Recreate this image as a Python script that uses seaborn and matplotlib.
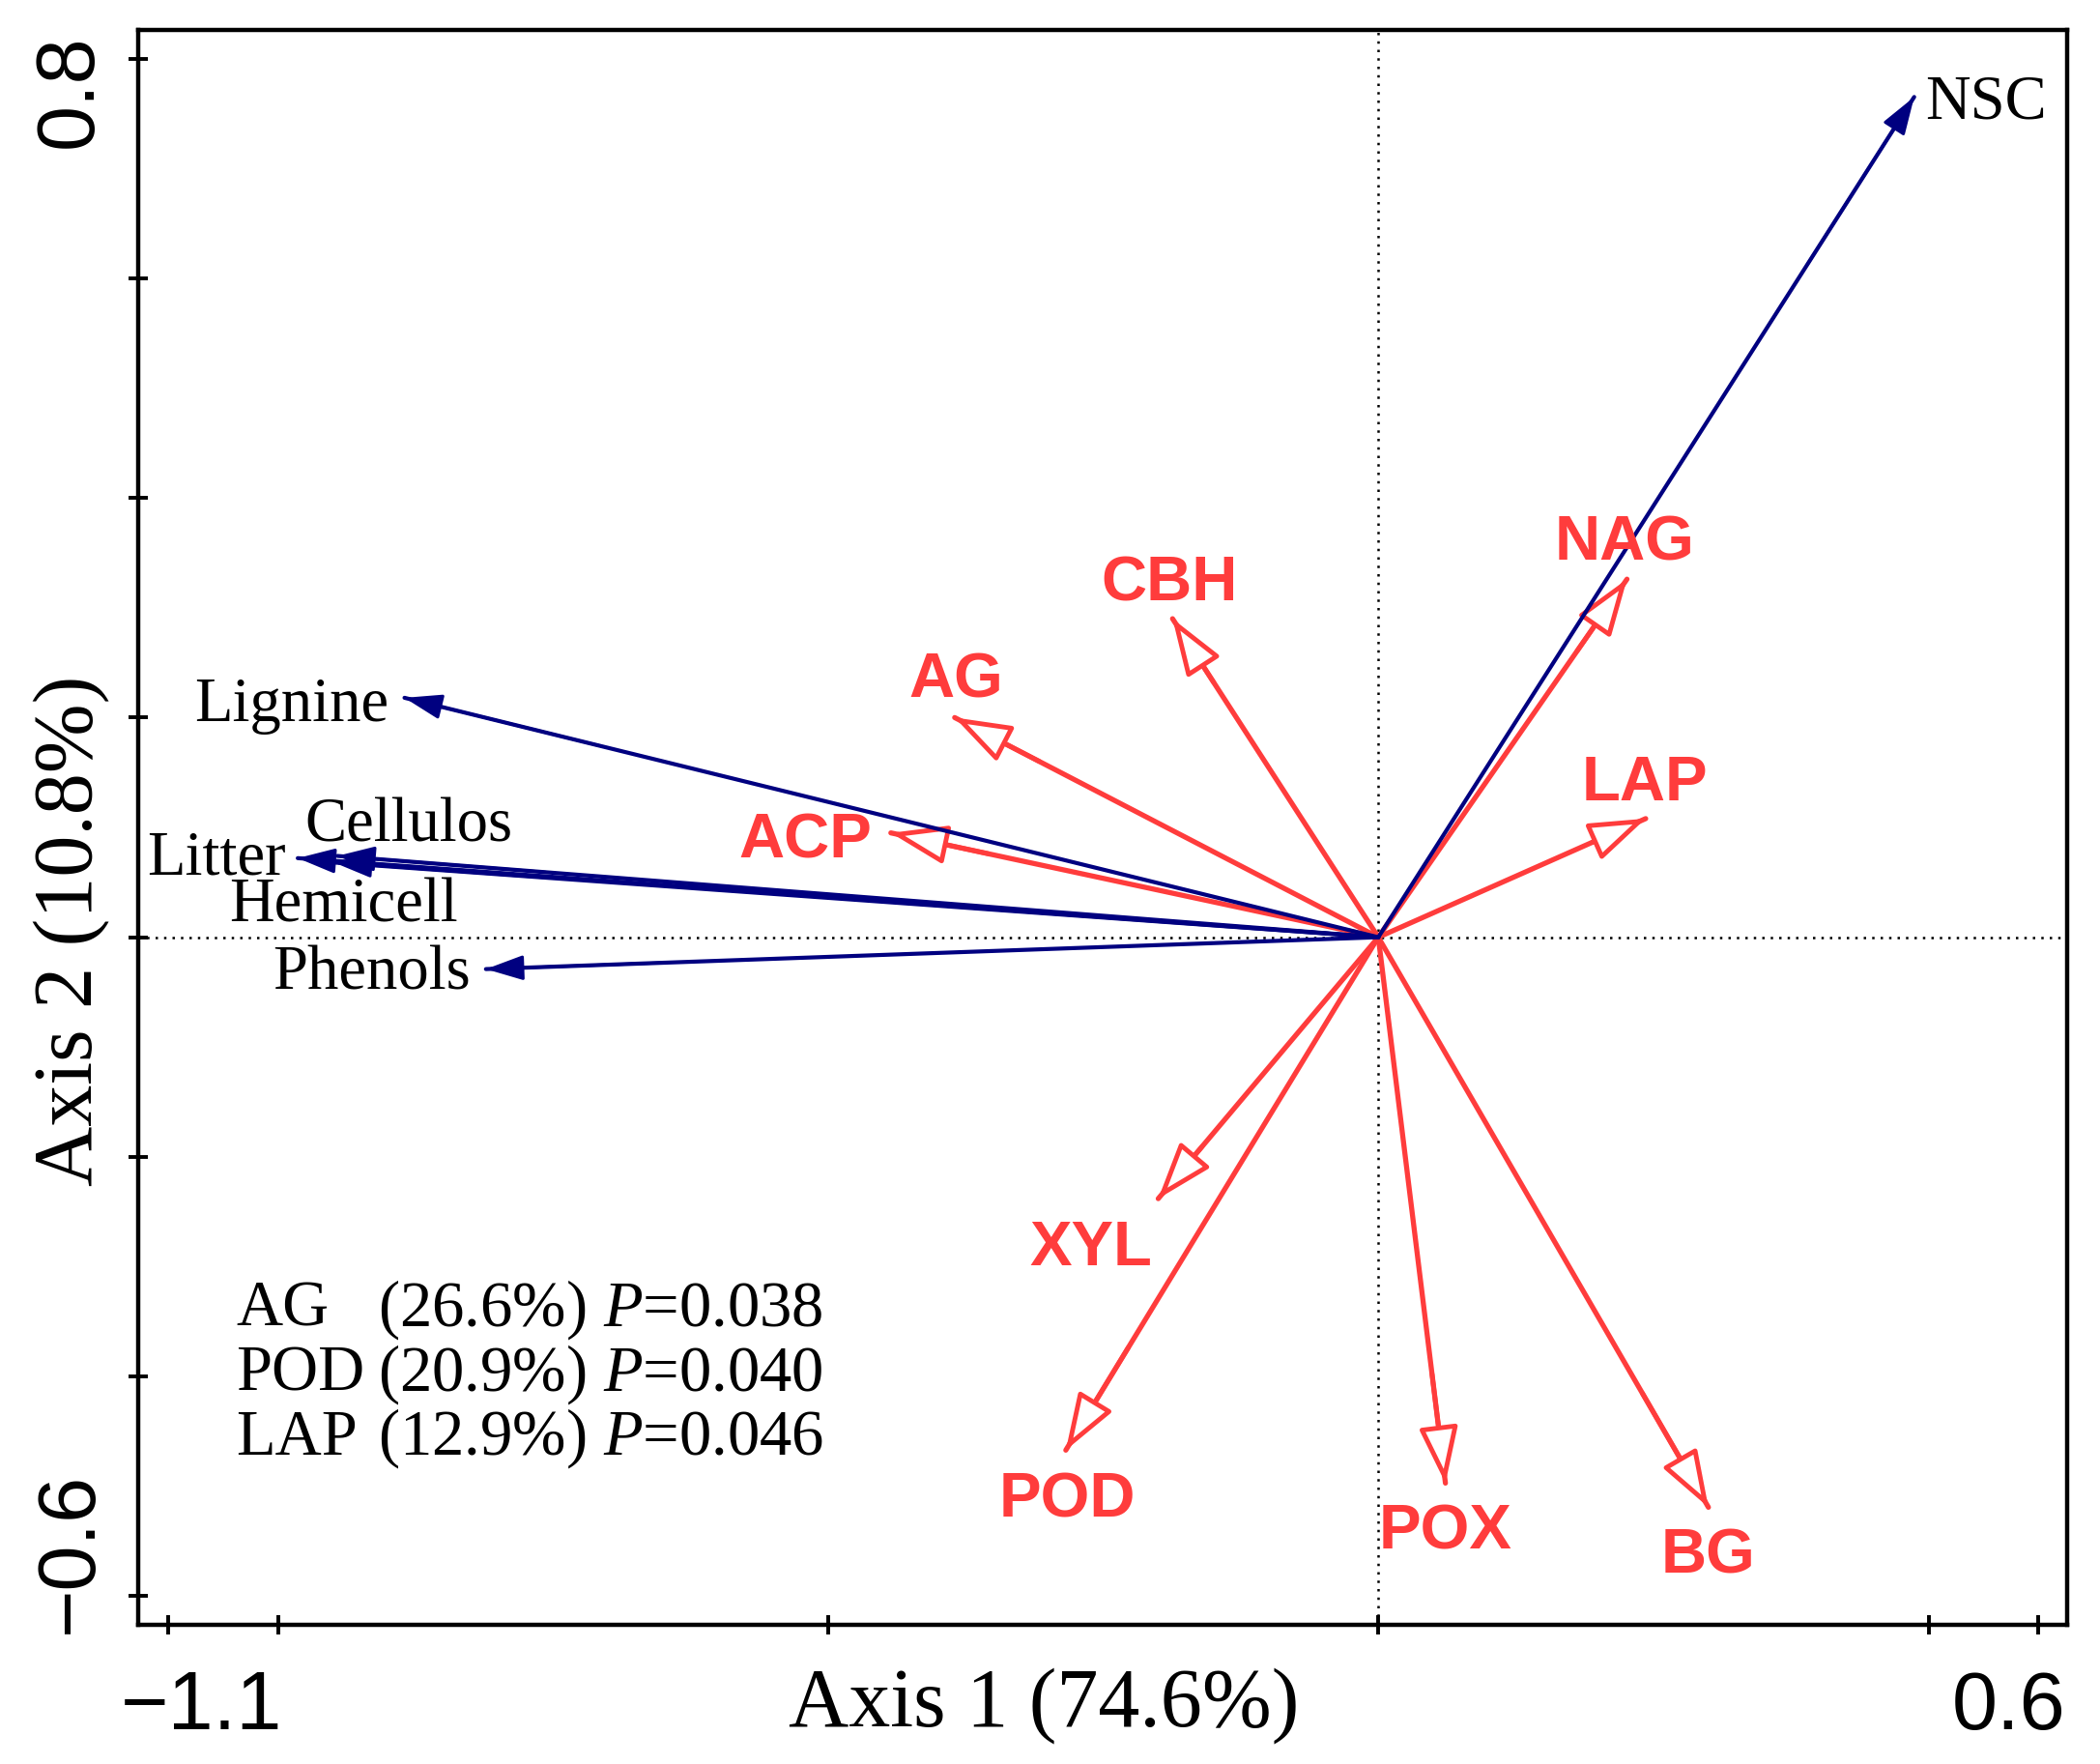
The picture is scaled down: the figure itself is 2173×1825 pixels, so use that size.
# RDA biplot of enzyme activities vs litter chemistry
import pandas as pd
import matplotlib
matplotlib.use('Agg')
import matplotlib.pyplot as plt
import matplotlib.transforms as mtransforms
import seaborn as sns

# explanatory variables (blue, filled heads)
env_names = ['NSC', 'Lignine', 'Cellulos', 'Litter', 'Hemicell', 'Phenols']
env_ax1 = [0.487, -0.885, -0.946, -0.982, -0.949, -0.811]
env_ax2 = [0.765, 0.218, 0.074, 0.072, 0.068, -0.029]

# enzyme activities (red, open heads)
enz_names = ['NAG', 'CBH', 'AG', 'ACP', 'LAP', 'XYL', 'POD', 'POX', 'BG']
enz_ax1 = [0.226, -0.187, -0.385, -0.443, 0.243, -0.200, -0.284, 0.061, 0.300]
enz_ax2 = [0.326, 0.290, 0.200, 0.095, 0.108, -0.238, -0.467, -0.497, -0.519]

axis1_pct = 74.6
axis2_pct = 10.8

# forward selection results
sig_names = ['AG', 'POD', 'LAP']
sig_expl = [26.6, 20.9, 12.9]
sig_p = [0.038, 0.040, 0.046]

x_ticks = [-1.1, -1.0, -0.5, 0.0, 0.5, 0.6]
x_ticklabels = ['\u22121.1', '', '', '', '', '0.6']
y_ticks = [-0.6, -0.4, -0.2, 0.0, 0.2, 0.4, 0.6, 0.8]
y_ticklabels = ['\u22120.6', '', '', '', '', '', '', '0.8']

# label anchors (centre x, baseline y) -- layout only
env_label_xy = {
    'NSC': (0.552, 0.7455), 'Lignine': (-0.988, 0.197), 'Cellulos': (-0.881, 0.0876),
    'Litter': (-1.056, 0.0569), 'Hemicell': (-0.940, 0.0146), 'Phenols': (-0.915, -0.047),
}
enz_label_xy = {
    'NAG': (0.224, 0.343), 'CBH': (-0.190, 0.306), 'AG': (-0.384, 0.218),
    'ACP': (-0.521, 0.072), 'LAP': (0.242, 0.1245), 'XYL': (-0.261, -0.299),
    'POD': (-0.283, -0.528), 'POX': (0.061, -0.557), 'BG': (0.300, -0.579),
}

RED = '#ff3c3c'
BLUE = '#000080'
SERIF = ['Liberation Serif', 'DejaVu Serif']
SANS = ['Liberation Sans', 'DejaVu Sans']

sns.set_theme(style='white')
plt.rcParams['font.family'] = SERIF
plt.rcParams['mathtext.fontset'] = 'custom'
plt.rcParams['mathtext.rm'] = 'Liberation Serif'
plt.rcParams['mathtext.it'] = 'Liberation Serif:italic'

fig = plt.figure(figsize=(21.73, 18.25), dpi=100, facecolor='white')
ax = fig.add_axes([143 / 2173, 1 - 1681 / 1825, 1996 / 2173, 1650 / 1825])
ax.set_facecolor('white')
ax.set_xlim(-1.127, 0.626)
ax.set_ylim(-0.626, 0.826)

ax.axhline(0, color='black', ls=(0, (1, 2.5)), lw=1.8, zorder=1)
ax.axvline(0, color='black', ls=(0, (1, 2.5)), lw=1.8, zorder=1)


def long_table(names, xs, ys):
    rows = []
    for n, x, y in zip(names, xs, ys):
        rows.append({'var': n, 'ax1': 0.0, 'ax2': 0.0})
        rows.append({'var': n, 'ax1': x, 'ax2': y})
    return pd.DataFrame(rows)


enz_df = long_table(enz_names, enz_ax1, enz_ax2)
env_df = long_table(env_names, env_ax1, env_ax2)

sns.lineplot(data=enz_df, x='ax1', y='ax2', units='var', estimator=None, sort=False,
             color=RED, linewidth=3.8, ax=ax, zorder=3, legend=False)
for x, y in zip(enz_ax1, enz_ax2):
    ax.annotate('', xy=(x, y), xytext=(0.8 * x, 0.8 * y),
                arrowprops=dict(arrowstyle='-|>,head_length=36,head_width=12.5',
                                mutation_scale=1, lw=3.5, ec=RED, fc='white',
                                shrinkA=0, shrinkB=0), zorder=4)

sns.lineplot(data=env_df, x='ax1', y='ax2', units='var', estimator=None, sort=False,
             color=BLUE, linewidth=3.0, ax=ax, zorder=5, legend=False)
for x, y in zip(env_ax1, env_ax2):
    ax.annotate('', xy=(x, y), xytext=(0.8 * x, 0.8 * y),
                arrowprops=dict(arrowstyle='-|>,head_length=24,head_width=8',
                                mutation_scale=1, lw=2.2, ec=BLUE, fc=BLUE,
                                shrinkA=0, shrinkB=0), zorder=6)

for name in enz_names:
    lx, ly = enz_label_xy[name]
    ax.text(lx, ly, name, color=RED, fontsize=47, fontweight='bold', family=SANS,
            ha='center', va='baseline', zorder=7)
for name in env_names:
    lx, ly = env_label_xy[name]
    ax.text(lx, ly, name, color='black', fontsize=46.5, family=SERIF,
            ha='center', va='baseline', zorder=7)

# significance block
for i, (n, e, p) in enumerate(zip(sig_names, sig_expl, sig_p)):
    yb = -0.354 - i * 0.0585
    ax.text(-1.038, yb, n, fontsize=48, ha='left', va='baseline', color='black')
    ax.text(-0.909, yb, f'({e:.1f}%) $P$={p:.3f}', fontsize=48, ha='left',
            va='baseline', color='black')

# frame and ticks
for sp in ax.spines.values():
    sp.set_visible(True)
    sp.set_color('black')
    sp.set_linewidth(3.2)

ax.set_xticks(x_ticks)
ax.set_xticklabels(x_ticklabels)
ax.set_yticks(y_ticks)
ax.set_yticklabels(y_ticklabels)
ax.tick_params(axis='both', direction='inout', length=15, width=2.8, color='black',
               labelcolor='black', labelsize=61)
ax.tick_params(axis='x', pad=25.5, bottom=True)
ax.tick_params(axis='y', pad=14, left=True, labelrotation=90)

for lab in ax.get_xticklabels() + ax.get_yticklabels():
    lab.set_fontfamily(SANS)
for lab in ax.get_yticklabels():
    lab.set_verticalalignment('center')
    lab.set_horizontalalignment('right')


def shift(label, dx_px, dy_px):
    off = mtransforms.ScaledTranslation(dx_px / fig.dpi, dy_px / fig.dpi, fig.dpi_scale_trans)
    label.set_transform(label.get_transform() + off)


xl = ax.get_xticklabels()
shift(xl[0], 35, 0)
shift(xl[-1], -31, 0)
yl = ax.get_yticklabels()
shift(yl[0], 0, 45)
shift(yl[-1], 0, -34)

ax.set_xlabel(f'Axis 1 ({axis1_pct}%)', fontsize=62, color='black')
ax.xaxis.set_label_coords(0.4695, -0.0267)
ax.set_ylabel(f'Axis 2 ({axis2_pct}%)', fontsize=62, color='black')
ax.yaxis.set_label_coords(-0.015, 0.435)

fig.savefig('out.png', dpi=100, facecolor='white')
